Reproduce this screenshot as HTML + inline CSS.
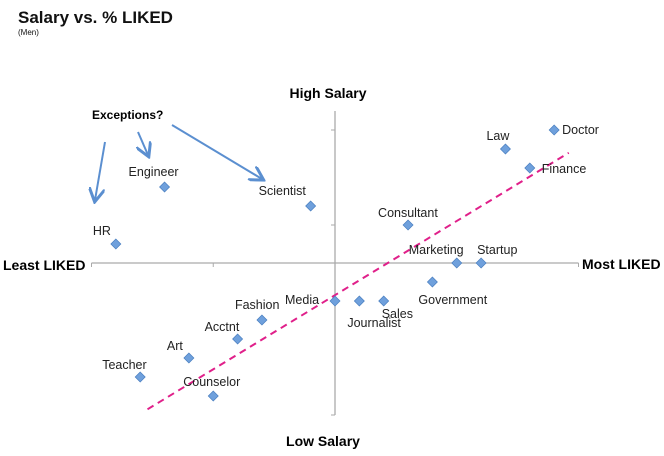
<!DOCTYPE html>
<html><head><meta charset="utf-8"><style>
body{margin:0;background:#fff;width:664px;height:456px;overflow:hidden;font-family:"Liberation Sans",sans-serif}
svg{position:absolute;left:0;top:0}
</style></head><body>
<svg width="664" height="456">
<text x="18" y="23" font-size="17" font-weight="bold" fill="#111">Salary vs. % LIKED</text>
<text x="18" y="35" font-size="8" fill="#111">(Men)</text>
<g id="axes"></g>
<g id="marks"></g>
<text x="328" y="98" font-size="14" font-weight="bold" text-anchor="middle">High Salary</text>
<text x="323" y="446" font-size="14" font-weight="bold" text-anchor="middle">Low Salary</text>
<text x="3" y="270" font-size="14" font-weight="bold">Least LIKED</text>
<text x="582" y="269" font-size="14" font-weight="bold">Most LIKED</text>
<text x="92" y="119" font-size="12" font-weight="bold">Exceptions?</text>
<defs><marker id="ah" markerWidth="8" markerHeight="8" refX="6" refY="4" orient="auto"><path d="M0,0 L7,4 L0,8" fill="none" stroke="#5b8fd0" stroke-width="1.5"/></marker></defs>
<g stroke="#5b8fd0" stroke-width="2" fill="none">
<line x1="105" y1="142" x2="95" y2="200" marker-end="url(#ah)"/>
<line x1="138" y1="132" x2="148" y2="155" marker-end="url(#ah)"/>
<line x1="172" y1="125" x2="262" y2="179" marker-end="url(#ah)"/>
</g>
</svg>
<script>
const jobs=["HR","Engineer","Scientist","Consultant","Law","Doctor","Finance","Marketing","Startup","Government","Media","Journalist","Sales","Fashion","Acctnt","Art","Teacher","Counselor"];
const liked=[-9,-7,-1,3,7,9,8,5,6,4,0,1,2,-3,-4,-6,-8,-5];
const salary=[1,4,3,2,6,7,5,0,0,-1,-2,-2,-2,-3,-4,-5,-6,-7];
const trendX=[-7.7,9.6];
const trendY=[-7.7,5.8];
const labelDx=[-23,-36,-52,-30,-19,8,12,-48,-4,-14,-50,-12,-2,-27,-33,-22,-38,-30];
const labelDy=[-9,-11,-11,-8,-9,4,5,-9,-9,22,3,26,17,-11,-8,-8,-8,-10];
const xs=v=>335+v*24.35, ys=v=>263-v*19;
const ns="http://www.w3.org/2000/svg";
const ax=document.getElementById('axes'), mk=document.getElementById('marks');
function ln(p,x1,y1,x2,y2,c,w,name){const l=document.createElementNS(ns,'line');l.setAttribute('x1',x1);l.setAttribute('y1',y1);l.setAttribute('x2',x2);l.setAttribute('y2',y2);l.setAttribute('stroke',c);l.setAttribute('stroke-width',w);


p.appendChild(l);return l;}
ln(ax,xs(-10),263,xs(10),263,'#aaa',1.3,'x-axis');
ln(ax,335,ys(8),335,ys(-8),'#aaa',1.3,'y-axis');
[-10,-5,5,10].forEach(t=>ln(ax,xs(t),263,xs(t),267,'#aaa',1,'x-tick'));
[7,2,-8].forEach(t=>ln(ax,331,ys(t),335,ys(t),'#aaa',1,'y-tick'));
const tl=ln(mk,xs(trendX[0]),ys(trendY[0]),xs(trendX[1]),ys(trendY[1]),'#e0208a',2,'trend-line');
tl.setAttribute('stroke-dasharray','7,5');
jobs.forEach((j,i)=>{
 const x=xs(liked[i]),y=ys(salary[i]);
 const p=document.createElementNS(ns,'path');
 p.setAttribute('d',`M${x},${y-5}L${x+5},${y}L${x},${y+5}L${x-5},${y}Z`);
 p.setAttribute('fill','#6fa0dc');p.setAttribute('stroke','#4a7fc0');p.setAttribute('stroke-width','0.7');
 
 
 mk.appendChild(p);
 const t=document.createElementNS(ns,'text');
 t.setAttribute('x',x+labelDx[i]);t.setAttribute('y',y+labelDy[i]);t.setAttribute('font-size','12.5');t.setAttribute('fill','#222');
 t.textContent=j;
 
 
 mk.appendChild(t);
});
</script>
</body></html>
